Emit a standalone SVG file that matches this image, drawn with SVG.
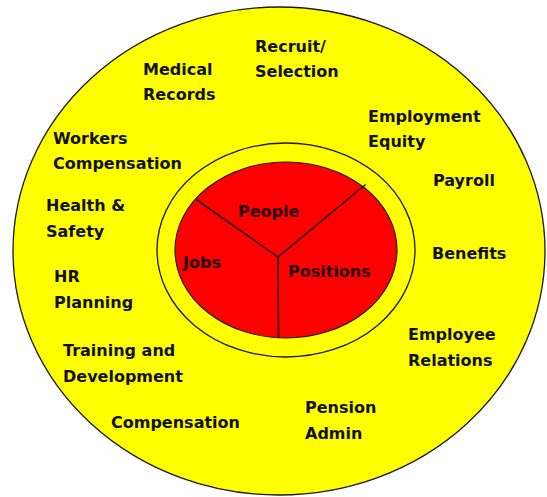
<svg xmlns="http://www.w3.org/2000/svg" width="547" height="497" viewBox="0 0 547 497">
  <style>
    .ring { stroke: #1a1a1a; stroke-width: 1.3; }
    .outer { fill: #ffff00; }
    .middle { fill: #ffff00; }
    .core { fill: #ff0000; stroke: #1a1a1a; stroke-width: 1.1; }
    .divider { stroke: #2a0000; stroke-width: 1.6; fill: none; stroke-linecap: round; }
    text { font-family: "DejaVu Sans", "Liberation Sans", sans-serif; font-weight: bold; font-size: 16px; fill: #111; }
    .inner text { fill: #2a0505; }
  </style>
  <rect width="547" height="497" fill="#ffffff"/>

  <!-- concentric rings -->
  <g id="outer-ring"><ellipse class="outer ring" cx="279" cy="251" rx="266" ry="244"/></g>
  <g id="middle-ring"><ellipse class="middle ring" cx="286" cy="250" rx="129" ry="107"/></g>
  <g id="core"><ellipse class="core" cx="286" cy="250" rx="111" ry="88"/></g>

  <!-- core dividers -->
  <g id="connectors">
    <line class="divider" x1="278" y1="257" x2="197" y2="200"/>
    <line class="divider" x1="278" y1="257" x2="365" y2="185"/>
    <line class="divider" x1="278" y1="257" x2="278.5" y2="337"/>
  </g>

  <!-- core segments -->
  <g class="inner">
    <g id="people"><text x="238" y="217">People</text></g>
    <g id="jobs"><text x="183" y="268">Jobs</text></g>
    <g id="positions"><text x="288" y="277">Positions</text></g>
  </g>

  <!-- HR functions -->
  <g id="recruit-selection"><text x="255" y="52">Recruit/</text><text x="255" y="77">Selection</text></g>
  <g id="medical-records"><text x="143" y="75">Medical</text><text x="143" y="100">Records</text></g>
  <g id="employment-equity"><text x="368" y="122">Employment</text><text x="368" y="147">Equity</text></g>
  <g id="workers-compensation"><text x="53" y="144">Workers</text><text x="53" y="169">Compensation</text></g>
  <g id="payroll"><text x="433" y="186">Payroll</text></g>
  <g id="health-safety"><text x="46" y="211">Health &amp;</text><text x="46" y="237">Safety</text></g>
  <g id="benefits"><text x="432" y="259">Benefits</text></g>
  <g id="hr-planning"><text x="54" y="282">HR</text><text x="54" y="308">Planning</text></g>
  <g id="employee-relations"><text x="408" y="340">Employee</text><text x="408" y="366">Relations</text></g>
  <g id="training-development"><text x="63" y="356">Training and</text><text x="63" y="382">Development</text></g>
  <g id="pension-admin"><text x="305" y="413">Pension</text><text x="305" y="439">Admin</text></g>
  <g id="compensation"><text x="111" y="428">Compensation</text></g>
</svg>
